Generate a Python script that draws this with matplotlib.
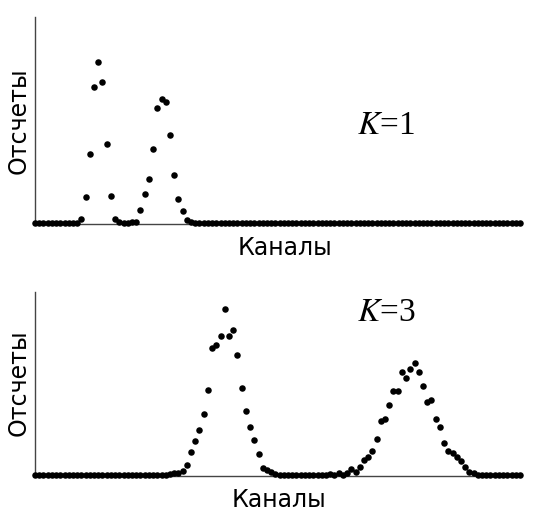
import matplotlib
matplotlib.use("Agg")
import matplotlib.pyplot as plt
import numpy as np

W, H = 535, 511

channels = list(range(116))

counts_k1 = [
    0, 0, 0, 0, 0, 0, 0, 0, 0, 0, 0,
    4, 26, 69, 136, 161, 141, 79, 27, 4, 1.3,
    0, 0, 1.3, 1.3, 13, 29, 44, 74, 115, 124,
    121, 88, 48, 24, 12, 3, 1.3,
    0, 0, 0, 0, 0, 0, 0, 0, 0, 0, 0, 0, 0,
    0, 0, 0, 0, 0, 0, 0, 0, 0, 0, 0, 0, 0,
    0, 0, 0, 0, 0, 0, 0, 0, 0, 0, 0, 0, 0,
    0, 0, 0, 0, 0, 0, 0, 0, 0, 0, 0, 0, 0,
    0, 0, 0, 0, 0, 0, 0, 0, 0, 0, 0, 0, 0,
    0, 0, 0, 0, 0, 0, 0, 0, 0, 0, 0, 0, 0,
]

counts_k3 = [
    0, 0, 0, 0, 0, 0, 0, 0, 0, 0, 0, 0, 0, 0, 0, 0,
    0, 0, 0, 0, 0, 0, 0, 0, 0, 0, 0, 0, 0, 0, 0, 0,
    0.7, 1.7, 2.5, 4.5, 10.5, 23, 34, 45, 61, 85.5,
    126.7, 130, 139.3, 166, 139.2, 145.5, 120.2, 87.3, 63.7, 48,
    35.5, 21.3, 7.3, 4.8, 2.7, 1,
    0, 0, 0, 0, 0, 0, 0, 0, 0, 0, 0, 0, 1, 0,
    1.7, 0, 2.3, 5.7, 2.7, 8.3, 15, 17.7, 24.3, 35.7,
    54.3, 55.7, 70, 84.3, 84.3, 103, 96.7, 105.7, 112.3, 103,
    89, 73, 74.7, 55.7, 47.7, 32.3, 24.3, 22.3, 17.7, 14,
    7.7, 2.7, 1.7,
    0, 0, 0, 0, 0, 0, 0, 0, 0, 0, 0,
]

panel_labels = ["K=1", "K=3"]
xlabel_text = "Каналы"
ylabel_text = "Отсчеты"

fig = plt.figure(figsize=(W / 100, H / 100), dpi=100)

def fx(px):
    return px / W

def fy(py):
    return 1 - py / H

ax1 = fig.add_axes([fx(35), fy(224), fx(520) - fx(35), fy(17) - fy(224)])
ax2 = fig.add_axes([fx(35), fy(476), fx(520) - fx(35), fy(291.7) - fy(476)])

for ax, counts, ylim in [(ax1, counts_k1, (-0.7, 206.3)), (ax2, counts_k3, (-1, 183.3))]:
    ax.scatter(channels, counts, s=22, color="black", linewidths=0, zorder=3, clip_on=False)
    ax.set_xlim(0, len(channels) - 1)
    ax.set_ylim(*ylim)
    ax.set_xticks([])
    ax.set_yticks([])
    for side in ("top", "right"):
        ax.spines[side].set_visible(False)
    for side in ("left", "bottom"):
        ax.spines[side].set_color("#444444")
        ax.spines[side].set_linewidth(1.0)

lab_font = dict(family="DejaVu Sans", fontsize=17, color="black")
fig.text(fx(284.5), fy(255), xlabel_text, ha="center", va="baseline", **lab_font)
fig.text(fx(279), fy(506.7), xlabel_text, ha="center", va="baseline", **lab_font)
fig.text(fx(19), fy(120.5), ylabel_text, ha="center", va="center", rotation=90, **lab_font)
fig.text(fx(19), fy(383), ylabel_text, ha="center", va="center", rotation=90, **lab_font)

def k_label(x, y, s):
    k, rest = s.split("=")
    fig.text(fx(x), fy(y), r"$\mathit{" + k + "}$" + "=" + rest, ha="left", va="baseline",
             fontsize=24, family="Liberation Serif", math_fontfamily="stix")

k_label(357, 134, panel_labels[0])
k_label(357, 321, panel_labels[1])

fig.savefig("out.png", dpi=100)
